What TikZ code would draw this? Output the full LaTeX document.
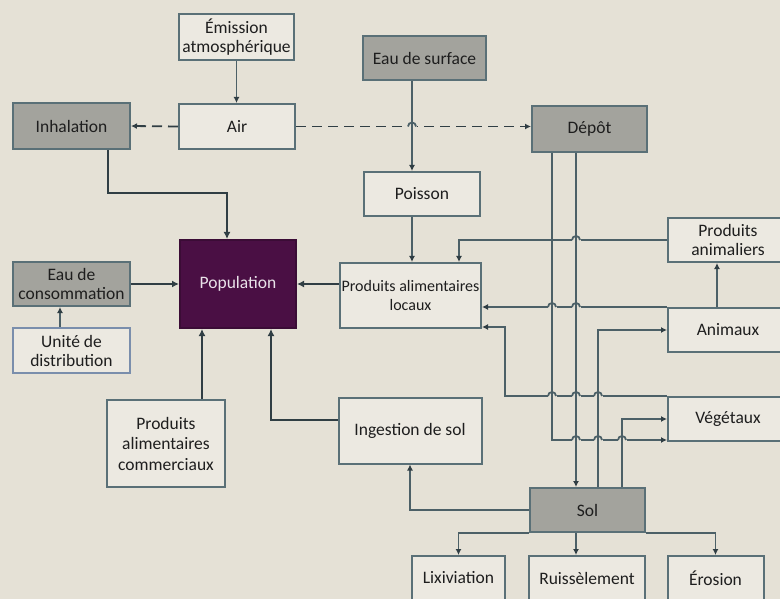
\documentclass[tikz,border=0pt]{standalone}
\usepackage{fontspec}
\setmainfont{Carlito}
\definecolor{paper}{RGB}{229,225,214}
\definecolor{boxfill}{RGB}{236,233,225}
\definecolor{boxline}{RGB}{90,112,119}
\definecolor{sourcegray}{RGB}{163,163,157}
\definecolor{popviolet}{RGB}{74,15,68}
\definecolor{wirecol}{RGB}{76,96,103}
\definecolor{feedcol}{RGB}{48,62,68}
\definecolor{unitblue}{RGB}{122,142,172}
\definecolor{inkgray}{RGB}{30,30,30}
\usetikzlibrary{arrows.meta}

% little bump where a horizontal wire passes over a vertical one
\newcommand{\hop}[1]{%
  \coordinate (hp) at #1;
  \fill[paper] ([xshift=-4.5pt,yshift=-2pt]hp) rectangle ([xshift=4.5pt,yshift=2pt]hp);
  \draw[wire] ([yshift=-2.5pt]hp) -- ([yshift=2.5pt]hp);
  \draw[wire] ([xshift=-4pt]hp) arc[start angle=180,end angle=0,radius=4pt];}

\begin{document}
\begin{tikzpicture}[x=1pt,y=-1pt,
    box/.style={draw=boxline,fill=boxfill,line width=2pt,inner sep=1pt,
      align=center,text=inkgray,font=\fontsize{17.5}{19}\selectfont},
    gbox/.style={box,fill=sourcegray},
    popbox/.style={box,fill=popviolet,draw=popviolet!80!black,text=white!88!popviolet},
    wire/.style={draw=wirecol,line width=1.8pt},
    link/.style={wire,-{Latex[length=6pt,width=6pt,color=feedcol]}},
    feed/.style={draw=feedcol,line width=2.8pt,-{Latex[length=7pt,width=7pt]}},
    airflow/.style={link,draw=feedcol,dash pattern=on 10pt off 6pt}]
    \useasboundingbox (0,0) rectangle (780,599);
    \fill[paper] (0,0) rectangle (780,599);

    % Columns of the wires
    \coordinate (cG) at (412,0);
    \coordinate (cA) at (552,0);
    \coordinate (cB) at (576,0);
    \coordinate (cC) at (598,0);
    \coordinate (cD) at (622,0);

    % Sources
    \node[box,minimum width=115pt,minimum height=46pt] (emis) at (236.5,37) {Émission\\atmosphérique};
    \node[box,minimum width=116pt,minimum height=45pt] (air) at (237,126.5) {Air};
    \node[gbox,minimum width=117pt,minimum height=46pt] (inhal) at (71.5,126) {Inhalation};
    \node[gbox,minimum width=123pt,minimum height=44pt] (eausurf) at (424.5,58) {Eau de surface};
    \node[gbox,minimum width=115pt,minimum height=46pt] (depot) at (589.5,129) {Dépôt};
    \node[box,minimum width=116pt,minimum height=44pt] (poisson) at (422,194) {Poisson};

    % Population and what it takes in
    \node[popbox,minimum width=116pt,minimum height=88pt] (pop) at (238,284) {Population};
    \node[gbox,minimum width=117pt,minimum height=44pt] (eaucons) at (71.5,284) {Eau de\\consommation};
    \node[box,draw=unitblue,minimum width=117pt,minimum height=45pt] (unite) at (71.5,350.5) {Unité de\\distribution};
    \node[box,font=\fontsize{16}{19}\selectfont,minimum width=141pt,minimum height=65pt] (pal) at (410.5,295.5) {Produits alimentaires\\locaux};
    \node[box,font=\fontsize{17.5}{20.5}\selectfont,minimum width=118pt,minimum height=87pt] (pac) at (166,443.5) {Produits\\alimentaires\\commerciaux};
    \node[box,minimum width=143pt,minimum height=66pt] (ingest) at (410,430.5) {Ingestion de sol};

    % Food chain on the right
    \node[box,minimum width=120pt,minimum height=44pt] (panim) at (728,240) {Produits\\animaliers};
    \node[box,minimum width=120pt,minimum height=44pt] (animaux) at (728,330) {Animaux};
    \node[box,minimum width=120pt,minimum height=44pt] (veget) at (728,419) {Végétaux};

    % Soil
    \node[gbox,minimum width=115pt,minimum height=44pt] (sol) at (587.5,510) {Sol};
    \node[box,minimum width=93pt,minimum height=44pt] (lixi) at (458.5,578) {Lixiviation};
    \node[box,minimum width=116pt,minimum height=44pt] (ruis) at (587,578) {Ruissèlement};
    \node[box,minimum width=96pt,minimum height=44pt] (eros) at (715.5,578) {Érosion};

    % Bends
    \coordinate (kInh) at (227,193);
    \coordinate (kPac) at ([xshift=36pt]pac.north);
    \coordinate (kIng) at ([yshift=10.5pt]ingest.west);
    \coordinate (kPan) at ([xshift=48.5pt]pal.north);
    \coordinate (kPal) at (505,327);
    \coordinate (kDv) at ([yshift=2pt]veget.south west);

    % Air
    \draw[link] (emis.south) -- (emis.south |- air.north);
    \draw[airflow] (air.west) -- (inhal.east);
    \draw[airflow] (air.east) -- (air.east -| depot.west);

    % Into the population
    \draw[feed] ([xshift=36.5pt]inhal.south) |- (kInh) -- (kInh |- pop.north);
    \draw[feed] (eaucons.east) -- (pop.west);
    \draw[link] ([xshift=-11.5pt]unite.north) -- ([xshift=-11.5pt]eaucons.south);
    \draw[feed] (pal.west |- pop.east) -- (pop.east);
    \draw[feed] (kPac) -- (kPac |- pop.south);
    \draw[feed] (kIng) -| ([xshift=33pt]pop.south);

    % Water and food
    \draw[link] (cG |- eausurf.south) -- (cG |- poisson.north);
    \draw[link] (cG |- poisson.south) -- (cG |- pal.north);
    \draw[link] (panim.west) -| (kPan);
    \draw[link] (animaux.north west) -- (animaux.north west -| pal.east);
    \draw[link] ([xshift=-11pt]animaux.north) -- ([xshift=-11pt]panim.south);
    \draw[link] (veget.north west) -| (kPal) -- (kPal -| pal.east);

    % Deposition and soil
    \draw[link] (cA |- depot.south) |- (kDv);
    \draw[link] (cB |- depot.south) -- (cB |- sol.north);
    \draw[link] (cC |- sol.north) |- (animaux.west);
    \draw[link] (cD |- sol.north) |- (veget.west);
    \draw[link] (sol.west) -| (ingest.south);
    \draw[link] (sol.south west) -| (lixi.north);
    \draw[link] (cB |- sol.south) -- (cB |- ruis.north);
    \draw[link] (sol.south east) -| (eros.north);

    % Crossings
    \hop{(cG |- air.east)}
    \hop{(cB |- panim.west)}
    \hop{(cA |- animaux.north)}
    \hop{(cB |- animaux.north)}
    \hop{(cA |- veget.north)}
    \hop{(cB |- veget.north)}
    \hop{(cC |- veget.north)}
    \hop{(cB |- kDv)}
    \hop{(cC |- kDv)}
    \hop{(cD |- kDv)}
\end{tikzpicture}
\end{document}
